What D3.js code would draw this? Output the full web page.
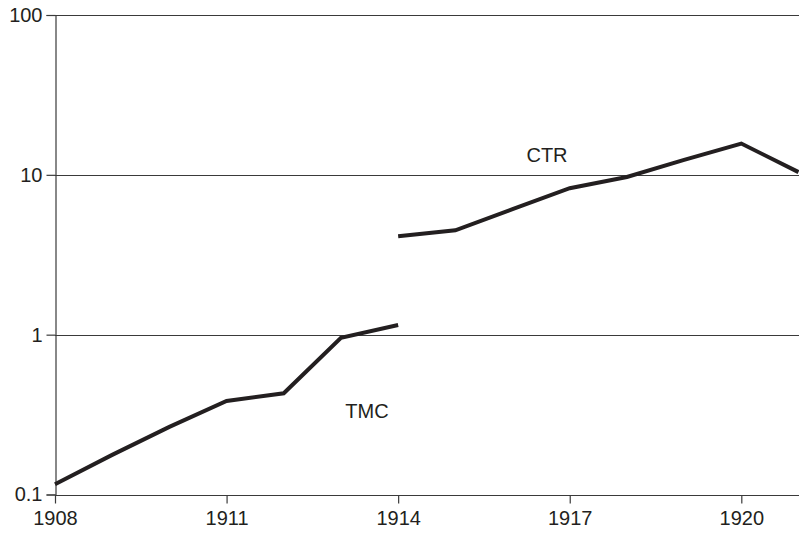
<!DOCTYPE html>
<html>
<head>
<meta charset="utf-8">
<script src="https://cdn.jsdelivr.net/npm/d3@7"></script>
<style>
    body { margin: 0; background: #fff; }
    text { font-family: "Liberation Sans", Arial, sans-serif; fill: #231f20; }
</style>
</head>
<body>
<div id="chart"></div>
<script>
var tmcYears = [1908, 1909, 1910, 1911, 1912, 1913, 1914]
var tmcValues = [0.116, 0.177, 0.265, 0.385, 0.43, 0.955, 1.15]
var ctrYears = [1914, 1915, 1916, 1917, 1918, 1919, 1920, 1921]
var ctrValues = [4.13, 4.5, 6.1, 8.25, 9.7, 12.4, 15.7, 10.4]
var xTicks = [1908, 1911, 1914, 1917, 1920]
var yTicks = [0.1, 1, 10, 100]
var yTickLabels = ["0.1", "1", "10", "100"]

var width = 799,
    height = 533

var svg = d3.select("#chart")
    .append("svg")
    .attr("width", width)
    .attr("height", height)

var x = d3.scaleLinear().domain([1908, 1921]).range([55, 798.5])
var y = d3.scaleLog().domain([0.1, 100]).range([494.5, 15])

// horizontal gridlines (the 0.1 one doubles as the x axis)
svg.selectAll(".grid")
    .data(yTicks)
    .enter().append("line")
    .attr("class", "grid")
    .attr("x1", x(1908))
    .attr("x2", width)
    .attr("y1", function (d) { return Math.round(y(d)) + 0.5 })
    .attr("y2", function (d) { return Math.round(y(d)) + 0.5 })
    .style("stroke", "#3a3a3a")
    .style("stroke-width", 1.2)

var yAxis = svg.append("g")
    .attr("transform", "translate(" + (Math.round(x(1908)) + 0.5) + ",0)")
    .call(d3.axisLeft(y).tickValues(yTicks)
        .tickFormat(function (d, i) { return yTickLabels[i] })
        .tickSize(9).tickPadding(4))

var xAxis = svg.append("g")
    .attr("transform", "translate(0," + (Math.round(y(0.1)) + 0.5) + ")")
    .call(d3.axisBottom(x).tickValues(xTicks)
        .tickFormat(d3.format("d"))
        .tickSize(8).tickPadding(7))

svg.selectAll(".domain")
    .style("stroke", "#3a3a3a")
    .style("stroke-width", 1.2)
xAxis.select(".domain").remove()
svg.selectAll(".tick line")
    .style("stroke", "#3a3a3a")
    .style("stroke-width", 1.2)
svg.selectAll(".tick text")
    .style("font-size", "20px")
    .style("font-family", "'Liberation Sans', Arial, sans-serif")
    .attr("fill", "#231f20")

var line = d3.line()
    .x(function (d) { return x(d[0]) })
    .y(function (d) { return y(d[1]) })

var tmc = d3.zip(tmcYears, tmcValues)
var ctr = d3.zip(ctrYears, ctrValues)

svg.selectAll(".series")
    .data([tmc, ctr])
    .enter().append("path")
    .attr("class", "series")
    .attr("d", line)
    .style("fill", "none")
    .style("stroke", "#231f20")
    .style("stroke-width", 4)
    .style("stroke-linejoin", "miter")

svg.append("text")
    .attr("x", 367)
    .attr("y", 418)
    .attr("text-anchor", "middle")
    .style("font-size", "20px")
    .text("TMC")

svg.append("text")
    .attr("x", 547)
    .attr("y", 162)
    .attr("text-anchor", "middle")
    .style("font-size", "20px")
    .text("CTR")
</script>
</body>
</html>
